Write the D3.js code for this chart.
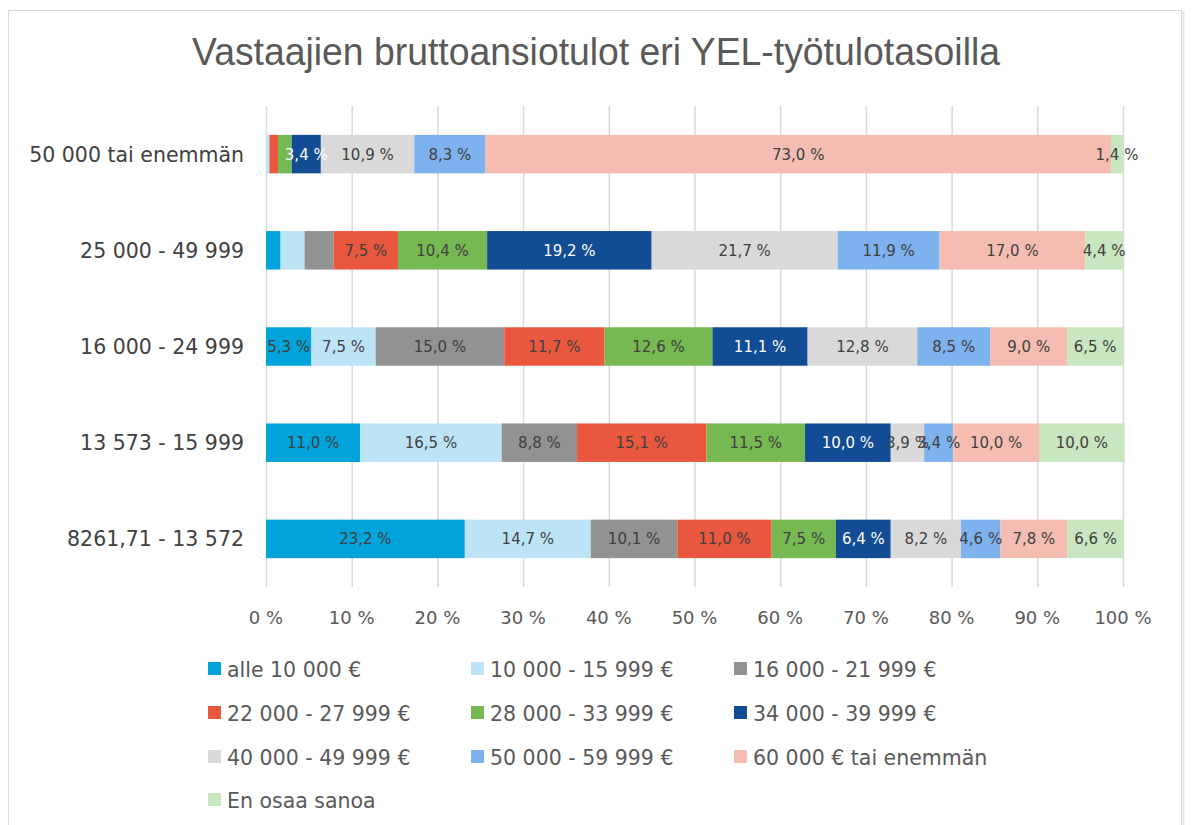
<!DOCTYPE html>
<html lang="fi">
<head>
<meta charset="UTF-8">
<title>Vastaajien bruttoansiotulot eri YEL-työtulotasoilla</title>
<script src="https://d3js.org/d3.v7.min.js"></script>
<style>
body { margin: 0; background: #fff; }
svg text { font-family: "DejaVu Sans", Verdana, sans-serif; }
</style>
</head>
<body>
<div id="chart"></div>
<script>
// categories, top to bottom
var categories = ["50 000 tai enemmän", "25 000 - 49 999", "16 000 - 24 999", "13 573 - 15 999", "8261,71 - 13 572"];

// series (income classes)
var seriesNames = ["alle 10 000 €", "10 000 - 15 999 €", "16 000 - 21 999 €", "22 000 - 27 999 €",
  "28 000 - 33 999 €", "34 000 - 39 999 €", "40 000 - 49 999 €", "50 000 - 59 999 €",
  "60 000 € tai enemmän", "En osaa sanoa"];
var seriesColors = ["#00A3DA", "#BDE4F6", "#929292", "#E9573F", "#76B852", "#124C94",
  "#D9D9D9", "#7EB2EE", "#F5BDB1", "#C8E6BF"];

// percentages per category (same order as seriesNames)
var row50000 = [0.0, 0.4, 0.0, 1.0, 1.6, 3.4, 10.9, 8.3, 73.0, 1.4];
var row25000 = [1.7, 2.8, 3.4, 7.5, 10.4, 19.2, 21.7, 11.9, 17.0, 4.4];
var row16000 = [5.3, 7.5, 15.0, 11.7, 12.6, 11.1, 12.8, 8.5, 9.0, 6.5];
var row13573 = [11.0, 16.5, 8.8, 15.1, 11.5, 10.0, 3.9, 3.4, 10.0, 10.0];
var row8261 = [23.2, 14.7, 10.1, 11.0, 7.5, 6.4, 8.2, 4.6, 7.8, 6.6];
var rows = [row50000, row25000, row16000, row13573, row8261];

// data labels that are not shown: [category index, series index]
var hiddenLabels = [[0, 0], [0, 1], [0, 2], [0, 3], [0, 4], [1, 0], [1, 1], [1, 2]];

var xTicks = [0, 10, 20, 30, 40, 50, 60, 70, 80, 90, 100];

var W = 1194, H = 825;
var svg = d3.select("#chart").append("svg")
  .attr("width", W).attr("height", H);

// outer frame
svg.append("rect")
  .attr("x", 8.5).attr("y", 10.5)
  .attr("width", 1173).attr("height", 830)
  .attr("fill", "none").attr("stroke", "#D9D9D9").attr("stroke-width", 1);
svg.append("line")
  .attr("x1", 1183.5).attr("x2", 1183.5).attr("y1", 11).attr("y2", H)
  .attr("stroke", "#E6E6E6").attr("stroke-width", 2);

// title
svg.append("text")
  .attr("x", 596).attr("y", 65)
  .attr("text-anchor", "middle")
  .attr("textLength", 808).attr("lengthAdjust", "spacingAndGlyphs")
  .style("font-family", "'Liberation Sans', Arial, sans-serif")
  .style("font-size", "38px")
  .attr("fill", "#595959")
  .text("Vastaajien bruttoansiotulot eri YEL-työtulotasoilla");

var x = d3.scaleLinear().domain([0, 100]).range([266, 1123]);
var y = d3.scaleBand().domain(categories).range([106, 587])
  .paddingInner(0.6).paddingOuter(0.3);

// gridlines
svg.append("g").selectAll("line")
  .data(xTicks).enter().append("line")
  .attr("x1", function(d) { return x(d) + 0.5; })
  .attr("x2", function(d) { return x(d) + 0.5; })
  .attr("y1", 106).attr("y2", 587)
  .attr("stroke", "#D9D9D9").attr("stroke-width", 1.5);

// x tick labels
svg.append("g").selectAll("text")
  .data(xTicks).enter().append("text")
  .attr("x", function(d) { return x(d); })
  .attr("y", 624)
  .attr("text-anchor", "middle")
  .style("font-size", "18px")
  .attr("fill", "#595959")
  .text(function(d) { return d + " %"; });

// category labels
svg.append("g").selectAll("text")
  .data(categories).enter().append("text")
  .attr("x", 244)
  .attr("y", function(d) { return y(d) + y.bandwidth() / 2 + 7.5; })
  .attr("text-anchor", "end")
  .style("font-size", "20.5px")
  .attr("fill", "#404040")
  .text(function(d) { return d; });

// stacked segments
var segs = [];
rows.forEach(function(r, ci) {
  var acc = 0;
  r.forEach(function(v, si) {
    segs.push({ cat: categories[ci], ci: ci, si: si, v: v, x0: acc, x1: acc + v });
    acc += v;
  });
});

svg.append("g").selectAll("rect")
  .data(segs.filter(function(d) { return d.v > 0; })).enter().append("rect")
  .attr("x", function(d) { return x(d.x0); })
  .attr("width", function(d) { return x(d.x1) - x(d.x0); })
  .attr("y", function(d) { return y(d.cat); })
  .attr("height", y.bandwidth())
  .attr("fill", function(d) { return seriesColors[d.si]; });

function isHidden(d) {
  return hiddenLabels.some(function(h) { return h[0] === d.ci && h[1] === d.si; });
}

svg.append("g").selectAll("text")
  .data(segs.filter(function(d) { return d.v > 0 && !isHidden(d); })).enter().append("text")
  .attr("x", function(d) { return x((d.x0 + d.x1) / 2); })
  .attr("y", function(d) { return y(d.cat) + y.bandwidth() / 2 + 5.5; })
  .attr("text-anchor", "middle")
  .style("font-size", "15px")
  .attr("fill", function(d) { return d.si === 5 ? "#ffffff" : "#404040"; })
  .text(function(d) { return d.v.toFixed(1).replace(".", ",") + " %"; });

// legend
var legCols = [208, 471, 734];
var legRows = [669, 713, 757, 800];
var legend = svg.append("g").selectAll("g")
  .data(seriesNames).enter().append("g")
  .attr("transform", function(d, i) {
    return "translate(" + legCols[i % 3] + "," + legRows[Math.floor(i / 3)] + ")";
  });
legend.append("rect")
  .attr("x", 0).attr("y", -7).attr("width", 13).attr("height", 13)
  .attr("fill", function(d, i) { return seriesColors[i]; });
legend.append("text")
  .attr("x", 19).attr("y", 7.5)
  .style("font-size", "20.5px")
  .attr("fill", "#595959")
  .text(function(d) { return d; });
</script>
</body>
</html>
